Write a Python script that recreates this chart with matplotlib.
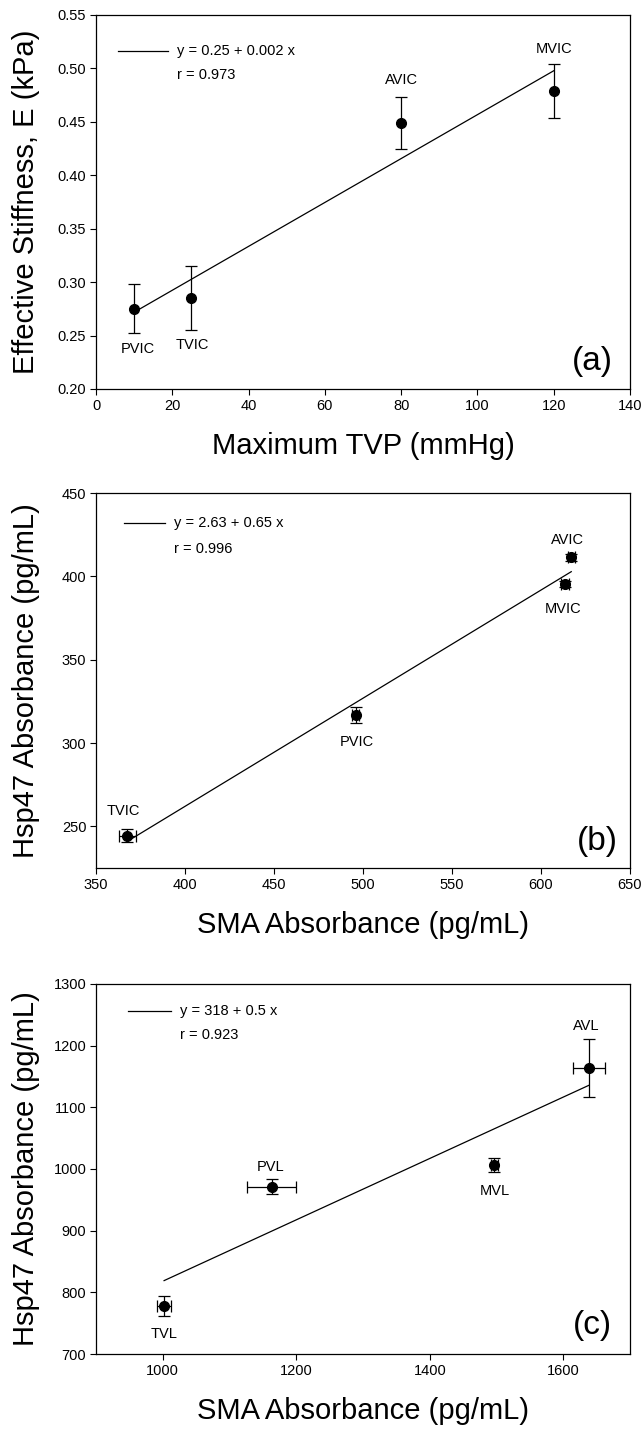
import numpy as np
import matplotlib
matplotlib.use("Agg")
import matplotlib.pyplot as plt

plt.rcParams['font.family'] = ['Liberation Sans', 'DejaVu Sans']

# ---------------- data ----------------
# Panel (a)
a_labels = ["PVIC", "TVIC", "AVIC", "MVIC"]
a_x = [10, 25, 80, 120]
a_y = [0.275, 0.285, 0.449, 0.479]
a_yerr = [0.023, 0.030, 0.024, 0.025]
a_label_pos = [(11.0, 0.237), (25.3, 0.241), (80.2, 0.489), (120.1, 0.518)]
a_eq = "y = 0.25 + 0.002 x"
a_r = "r = 0.973"

# Panel (b)
b_labels = ["TVIC", "PVIC", "AVIC", "MVIC"]
b_x = [367.5, 496.0, 617.0, 613.5]
b_y = [244.5, 317.0, 411.5, 395.5]
b_xerr = [4.8, 2.0, 2.0, 2.0]
b_yerr = [4.0, 4.8, 2.0, 2.0]
b_label_pos = [(365.2, 259.2), (496.8, 300.4), (615.0, 421.6), (612.4, 380.6)]
b_eq = "y = 2.63 + 0.65 x"
b_r = "r = 0.996"

# Panel (c)
c_labels = ["TVL", "PVL", "MVL", "AVL"]
c_x = [1002, 1163, 1497, 1638]
c_y = [778, 971.5, 1006.5, 1163]
c_xerr = [11, 37, 5, 24]
c_yerr = [16, 12, 11, 47]
c_label_pos = [(1002, 732), (1162, 1004), (1498, 964), (1635, 1232)]
c_eq = "y = 318 + 0.5 x"
c_r = "r = 0.923"

W, H = 643, 1432
fig = plt.figure(figsize=(W / 100, H / 100), dpi=100)

left = 96 / W
width = (630 - 96) / W

def axes_from_px(top, bottom):
    return fig.add_axes([left, 1 - bottom / H, width, (bottom - top) / H])

ax_a = axes_from_px(15, 389)
ax_b = axes_from_px(493, 868)
ax_c = axes_from_px(984, 1354)

small = 10.5
big = 21

def style(ax):
    for s in ax.spines.values():
        s.set_linewidth(0.9)
        s.set_color('black')
    ax.tick_params(axis='both', which='both', direction='out', length=4, width=0.8,
                   labelsize=small, top=False, right=False, pad=3)

def panel(ax, x, y, xerr, yerr, labels, label_pos, eq, r, tag, leg_pos):
    ax.errorbar(x, y, xerr=xerr, yerr=yerr, fmt='o', color='black', ms=7,
                ecolor='black', elinewidth=0.9, capsize=4.5, capthick=0.9, zorder=3)
    slope, intercept = np.polyfit(x, y, 1)
    xs = np.array([min(x), max(x)])
    ax.plot(xs, intercept + slope * xs, color='black', lw=0.9, zorder=2)
    for lab, (lx, ly) in zip(labels, label_pos):
        ax.text(lx, ly, lab, ha='center', va='center', fontsize=small)
    lx0, lx1, tx, ty1, ty2 = leg_pos
    ax.plot([lx0, lx1], [ty1, ty1], transform=ax.transAxes, color='black', lw=0.9)
    ax.text(tx, ty1, eq, transform=ax.transAxes, ha='left', va='center', fontsize=small)
    ax.text(tx, ty2, r, transform=ax.transAxes, ha='left', va='center', fontsize=small)
    ax.text(tag[1], tag[2], tag[0], transform=ax.transAxes, ha='center', va='center', fontsize=24)
    style(ax)

panel(ax_a, a_x, a_y, None, a_yerr, a_labels, a_label_pos, a_eq, a_r,
      ("(a)", 0.93, 0.073), (0.041, 0.135, 0.152, 0.905, 0.840))
ax_a.set_xlim(0, 140)
ax_a.set_ylim(0.20, 0.55)
ax_a.set_xticks(np.arange(0, 141, 20))
ax_a.set_yticks(np.arange(0.20, 0.551, 0.05))
ax_a.yaxis.set_major_formatter(matplotlib.ticker.FormatStrFormatter('%.2f'))
ax_a.set_xlabel("Maximum TVP (mmHg)", fontsize=big, labelpad=14)
ax_a.set_ylabel("Effective Stiffness, E (kPa)", fontsize=big, labelpad=10)

panel(ax_b, b_x, b_y, b_xerr, b_yerr, b_labels, b_label_pos, b_eq, b_r,
      ("(b)", 0.938, 0.070), (0.052, 0.129, 0.146, 0.920, 0.851))
ax_b.set_xlim(350, 650)
ax_b.set_ylim(225, 450)
ax_b.set_xticks(np.arange(350, 651, 50))
ax_b.set_yticks(np.arange(250, 451, 50))
ax_b.set_xlabel("SMA Absorbance (pg/mL)", fontsize=big, labelpad=14)
ax_b.set_ylabel("Hsp47 Absorbance (pg/mL)", fontsize=big, labelpad=10)

panel(ax_c, c_x, c_y, c_xerr, c_yerr, c_labels, c_label_pos, c_eq, c_r,
      ("(c)", 0.93, 0.078), (0.060, 0.141, 0.158, 0.927, 0.863))
ax_c.set_xlim(900, 1700)
ax_c.set_ylim(700, 1300)
ax_c.set_xticks(np.arange(1000, 1601, 200))
ax_c.set_yticks(np.arange(700, 1301, 100))
ax_c.set_xlabel("SMA Absorbance (pg/mL)", fontsize=big, labelpad=14)
ax_c.set_ylabel("Hsp47 Absorbance (pg/mL)", fontsize=big, labelpad=10)

for ax in (ax_a, ax_b, ax_c):
    ax.yaxis.set_label_coords(-0.105, 0.5)

fig.savefig("out.png", dpi=100)
